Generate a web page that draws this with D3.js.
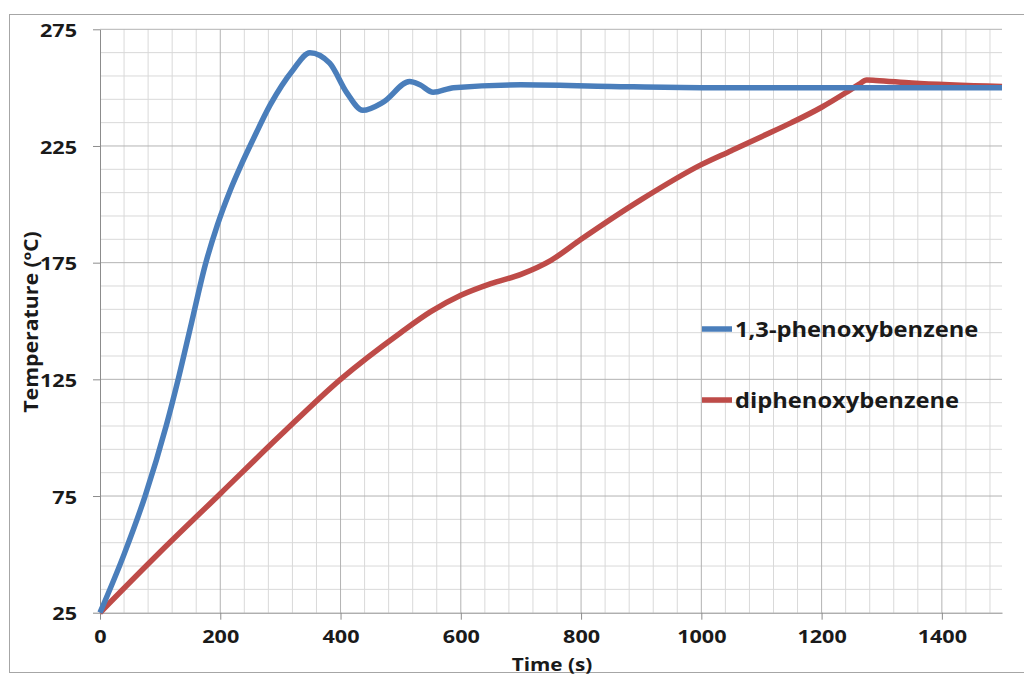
<!DOCTYPE html>
<html>
<head>
<meta charset="utf-8">
<script src="https://cdn.jsdelivr.net/npm/d3@7"></script>
<style>
  body { margin: 0; background: #fff; }
  text { font-family: "Open Sans", "Liberation Sans", sans-serif; font-weight: 700; fill: #1a1a1a; }
</style>
</head>
<body>
<svg width="1024" height="677"></svg>
<script>
// time (s) and temperature (ºC)
let blueTime = [0, 40, 75, 110, 130, 152, 175, 195, 215, 235, 255, 283, 321, 349, 382, 410, 437, 471, 515, 532, 554, 588, 700, 850, 1000, 1200, 1500];
let blueTemp = [25, 50, 75, 105, 125, 149, 174, 191, 205, 217, 228, 242.6, 257.6, 265, 260.5, 248, 240.3, 243.8, 252.6, 251.2, 248, 250, 251.2, 250.5, 250, 250, 250];
let redTime = [0, 100, 200, 300, 400, 500, 550, 600, 650, 700, 750, 800, 900, 1000, 1050, 1100, 1150, 1200, 1240, 1262, 1275, 1290, 1350, 1500];
let redTemp = [25, 51, 76, 101, 125, 145, 154, 161, 166, 170, 176, 185, 202, 217, 223, 229, 235, 241.6, 247.8, 251.4, 253.3, 253.1, 252, 250.5];
let seriesNames = ['1,3-phenoxybenzene', 'diphenoxybenzene'];
let seriesColors = ['#4a7ebb', '#be4b48'];
let xTicks = [0, 200, 400, 600, 800, 1000, 1200, 1400];
let yTicks = [25, 75, 125, 175, 225, 275];

let svg = d3.select('svg');
let margin = { top: 29.3, bottom: 64.3, left: 100, right: 22 };
let width = +svg.attr('width');
let height = +svg.attr('height');

// chart frame
svg.append('rect')
    .attr('x', 9.5).attr('y', 14.5)
    .attr('width', 1030).attr('height', 658)
    .attr('fill', '#fff')
    .attr('stroke', '#a6a6a6');

let x = d3.scaleLinear().domain([0, 1500]).range([margin.left, width - margin.right]);
let y = d3.scaleLinear().domain([25, 275]).range([height - margin.bottom, margin.top]);

// grid: minor then major
let g = svg.append('g');
g.selectAll('.vminor')
    .data(d3.range(40, 1500, 40).filter(d => d % 200 != 0))
    .join('line')
        .attr('x1', d => x(d)).attr('x2', d => x(d))
        .attr('y1', y(25)).attr('y2', y(275))
        .attr('stroke', '#d9d9d9');
g.selectAll('.hminor')
    .data(d3.range(35, 276, 10).filter(d => (d - 25) % 50 != 0))
    .join('line')
        .attr('x1', x(0)).attr('x2', x(1500))
        .attr('y1', d => y(d)).attr('y2', d => y(d))
        .attr('stroke', '#d9d9d9');
g.selectAll('.vmajor')
    .data(xTicks.slice(1))
    .join('line')
        .attr('x1', d => x(d)).attr('x2', d => x(d))
        .attr('y1', y(25)).attr('y2', y(275))
        .attr('stroke', '#b3b3b3');
g.selectAll('.hmajor')
    .data(yTicks.slice(1))
    .join('line')
        .attr('x1', x(0)).attr('x2', x(1500))
        .attr('y1', d => y(d)).attr('y2', d => y(d))
        .attr('stroke', '#b3b3b3');

// axes (labels stretched a little, the source image is wide)
let stretch = 1.2;
let xAxis = svg.append('g')
    .attr('transform', `translate(0,${y(25)})`)
    .call(d3.axisBottom(x).tickValues(xTicks).tickFormat(d3.format('d'))
        .tickSize(7).tickPadding(11).tickSizeOuter(0));
let yAxis = svg.append('g')
    .attr('transform', `translate(${x(0)},0)`)
    .call(d3.axisLeft(y).tickValues(yTicks).tickSize(7).tickPadding(16).tickSizeOuter(0));
[xAxis, yAxis].forEach(a => {
    a.select('.domain').attr('stroke', '#8c8c8c');
    a.selectAll('.tick line').attr('stroke', '#8c8c8c');
    a.selectAll('text').attr('font-size', 18).attr('fill', '#1a1a1a')
        .attr('font-family', '"Open Sans", sans-serif').attr('font-weight', 700)
        .attr('transform', `scale(${stretch},1)`);
});
yAxis.selectAll('text').attr('x', -23 / stretch).attr('dy', '0.4em');

// lines
let line = d3.line()
    .x(d => x(d[0]))
    .y(d => y(d[1]))
    .curve(d3.curveMonotoneX);
let series = [d3.zip(blueTime, blueTemp), d3.zip(redTime, redTemp)];
svg.selectAll('.series')
    .data([1, 0])
    .join('path')
        .attr('d', i => line(series[i]))
        .attr('fill', 'none')
        .attr('stroke', i => seriesColors[i])
        .attr('stroke-width', 5.5)
        .attr('stroke-linejoin', 'round');

// legend
let legendY = [329, 400];
seriesNames.forEach((name, i) => {
    svg.append('line')
        .attr('x1', 702).attr('x2', 732)
        .attr('y1', legendY[i]).attr('y2', legendY[i])
        .attr('stroke', seriesColors[i])
        .attr('stroke-width', 5.5);
    svg.append('text')
        .attr('transform', `translate(735,${legendY[i]}) scale(1.13,1)`)
        .attr('dy', '0.36em')
        .attr('font-size', 21)
        .text(name);
});

// axis titles
svg.append('text')
    .attr('transform', 'translate(552,671) scale(1.15,1)')
    .attr('text-anchor', 'middle')
    .attr('font-size', 18)
    .text('Time (s)');
svg.append('text')
    .attr('transform', 'translate(38,322) rotate(-90) scale(1.12,1)')
    .attr('text-anchor', 'middle')
    .attr('font-size', 19)
    .text('Temperature (ºC)');
</script>
</body>
</html>
